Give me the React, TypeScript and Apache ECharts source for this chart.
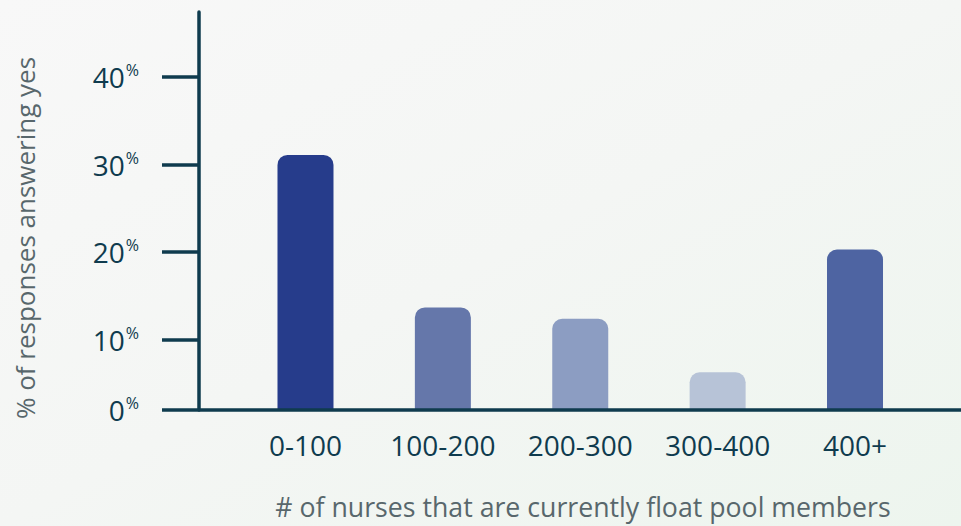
import React, { useEffect, useRef } from "react";
import * as echarts from "echarts";

const categories = ["0-100", "100-200", "200-300", "300-400", "400+"];
const values = [31.1, 13.7, 12.4, 6.3, 20.3];
const barColors = ["#263c8b", "#6577aa", "#8c9dc2", "#b7c3d7", "#4e64a2"];
const yTickValues = [2, 10, 20, 30, 40];
const yTickLabels: Record<number, string> = { 2: "0", 10: "10", 20: "20", 30: "30", 40: "40" };
const xAxisTitle = "# of nurses that are currently float pool members";
const yAxisTitle = "% of responses answering yes";

const FONT = "'Open Sans', 'Noto Sans', sans-serif";
const AXIS_COLOR = "#0f3b4e";
const NAME_COLOR = "#58676c";

export default function App() {
  const ref = useRef<HTMLDivElement>(null);
  useEffect(() => {
    document.body.style.margin = "0";
    if (!ref.current) return;
    const chart = echarts.init(ref.current, undefined, { renderer: "svg" });
    const gridTop = 12;
    const gridBottom = 116;
    const gridLeft = 236.8;
    const gridRight = 37.3;
    const baseY = 526 - gridBottom;
    chart.setOption({
      animation: false,
      backgroundColor: new echarts.graphic.LinearGradient(0, 0, 1, 1, [
        { offset: 0, color: "#f8f8f8" },
        { offset: 0.5, color: "#f4f6f4" },
        { offset: 1, color: "#edf5ee" },
      ]),
      grid: { top: gridTop, bottom: gridBottom, left: gridLeft, right: gridRight, containLabel: false },
      xAxis: {
        type: "category",
        data: categories,
        axisLine: { show: false },
        axisTick: { show: false },
        axisLabel: {
          color: AXIS_COLOR,
          fontFamily: FONT,
          fontSize: 28,
          margin: 21,
        },
      },
      yAxis: {
        type: "value",
        min: 2,
        max: 47.4,
        offset: 37.8,
        splitLine: { show: false },
        axisLine: { show: true, lineStyle: { color: AXIS_COLOR, width: 3.5 } },
        axisTick: {
          show: true,
          customValues: yTickValues,
          length: 37,
          lineStyle: { color: AXIS_COLOR, width: 3.5 },
        },
        axisLabel: {
          customValues: yTickValues,
          margin: 60,
          formatter: (v: number) => `{n|${yTickLabels[v] ?? v}}{p|%}`,
          rich: {
            n: { color: AXIS_COLOR, fontFamily: FONT, fontSize: 28, lineHeight: 30 },
            p: { color: AXIS_COLOR, fontFamily: FONT, fontSize: 16, lineHeight: 16, verticalAlign: "top", padding: [0, 0, 12, 1] },
          },
        },
      },
      series: [
        {
          type: "bar",
          clip: true,
          barWidth: 56,
          data: values.map((v, i) => ({
            value: v,
            itemStyle: { color: barColors[i], borderRadius: [10, 10, 0, 0] },
          })),
        },
      ],
      graphic: [
        {
          type: "line",
          z: 100,
          shape: { x1: 199, y1: baseY, x2: 961, y2: baseY },
          style: { stroke: AXIS_COLOR, lineWidth: 3.5 },
        },
        {
          type: "text",
          x: 583,
          y: 506,
          style: {
            text: xAxisTitle,
            fill: NAME_COLOR,
            font: `26.7px ${FONT}`,
            lineHeight: 27,
            align: "center",
            verticalAlign: "middle",
          },
        },
        {
          type: "text",
          x: 25,
          y: 238,
          rotation: Math.PI / 2,
          style: {
            text: yAxisTitle,
            fill: NAME_COLOR,
            font: `26px ${FONT}`,
            align: "center",
            verticalAlign: "middle",
          },
        },
      ],
    });
    return () => chart.dispose();
  }, []);
  return <div ref={ref} style={{ width: 961, height: 526 }} />;
}
